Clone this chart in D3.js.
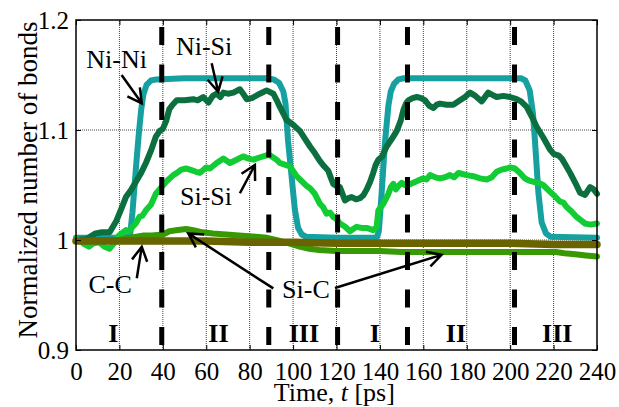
<html>
<head>
<meta charset="utf-8">
<script src="https://d3js.org/d3.v7.min.js"></script>
<style>
body { margin: 0; background: #fff; }
svg text { font-family: "Liberation Serif", "Times New Roman", serif; fill: #000; }
</style>
</head>
<body>
<script>
// bond counts normalized by their initial value, time in ps
var niNi = [[0,1.002],[10,1.002],[20,1.002],[24,1.003],[25,1.006],[26,1.025],[27,1.050],[28,1.075],[29,1.098],[30,1.118],[31,1.132],[32.5,1.141],[34.5,1.145],[37,1.146],[50,1.147],[70,1.147],[88,1.147],[91,1.146],[93.5,1.143],[95.5,1.135],[96.5,1.124],[97.7,1.090],[99.3,1.058],[100.8,1.028],[102.3,1.011],[104,1.005],[106,1.003],[120,1.002],[138.5,1.002],[139.5,1.008],[140.8,1.043],[142.3,1.088],[143.9,1.122],[145,1.135],[146.5,1.142],[148.5,1.146],[151,1.147],[180,1.147],[205,1.147],[207,1.145],[209,1.136],[210.5,1.115],[211.5,1.088],[213,1.043],[214.5,1.016],[216.5,1.006],[218.5,1.003],[240,1.002]];

var niSi = [[0,1.000],[5,1.001],[9,1.006],[12,1.007],[15.5,1.007],[18.5,1.017],[21,1.029],[23,1.039],[25.5,1.046],[27.6,1.053],[30,1.061],[32.2,1.070],[34.5,1.081],[36.8,1.094],[38.5,1.099],[40,1.101],[41.5,1.108],[43,1.119],[44.5,1.123],[46.4,1.127],[50,1.127],[54,1.128],[56,1.127],[58.6,1.130],[61,1.125],[63,1.131],[64.8,1.133],[66.5,1.130],[67.9,1.134],[70,1.133],[72.5,1.134],[75.5,1.137],[77,1.133],[78.6,1.128],[81,1.129],[84.7,1.133],[87.8,1.136],[90.9,1.133],[92.5,1.127],[93.9,1.121],[95.5,1.115],[97,1.109],[98.6,1.107],[100.5,1.104],[103.2,1.099],[105.5,1.092],[107.8,1.085],[110,1.079],[112.3,1.072],[114.3,1.067],[116.2,1.063],[117.5,1.056],[118.5,1.051],[120,1.049],[121.6,1.048],[123.9,1.036],[125.5,1.038],[127,1.039],[129,1.037],[130.8,1.038],[132.5,1.041],[133.9,1.046],[135.5,1.053],[136.9,1.061],[138,1.068],[139.3,1.073],[141,1.076],[143.1,1.085],[145.5,1.092],[147.7,1.099],[149.5,1.108],[150.8,1.118],[152,1.124],[153.1,1.127],[155,1.129],[157,1.130],[159,1.129],[160.8,1.127],[162.7,1.122],[164.7,1.120],[166.2,1.123],[167.7,1.124],[170.7,1.123],[173.8,1.123],[176.9,1.127],[179.2,1.130],[181.5,1.134],[184,1.131],[186.9,1.126],[189.9,1.134],[191.8,1.132],[193.8,1.130],[196.9,1.131],[199.9,1.130],[203,1.128],[205,1.126],[207.6,1.121],[210,1.112],[212.2,1.103],[215.3,1.093],[218.4,1.082],[220.2,1.078],[222.2,1.077],[223.8,1.074],[225.6,1.068],[227.6,1.061],[230,1.052],[232.2,1.043],[234.5,1.041],[236.8,1.048],[238.5,1.046],[240,1.042]];

var siSi = [[0,1.001],[2,0.999],[4,0.996],[6,0.994],[8,0.997],[10.7,0.998],[13,0.994],[15.4,0.992],[17.5,0.997],[19.2,1.003],[21,1.006],[23,1.009],[24.5,1.008],[26.1,1.012],[27.5,1.015],[29.2,1.021],[30.5,1.022],[32.2,1.027],[34.5,1.032],[36.8,1.042],[38.5,1.046],[41.5,1.053],[44.8,1.059],[46.5,1.061],[48.5,1.064],[50.7,1.065],[52.5,1.064],[55.3,1.062],[57.1,1.061],[59.9,1.066],[61.7,1.065],[64.8,1.070],[67.9,1.074],[70.9,1.070],[74,1.073],[77,1.076],[79.5,1.074],[81.7,1.073],[84.5,1.075],[87.8,1.077],[89.3,1.077],[92.4,1.073],[93.9,1.070],[95.5,1.069],[98.6,1.067],[101.6,1.058],[103.2,1.055],[106.3,1.049],[107.8,1.047],[110,1.042],[112.3,1.033],[113.8,1.030],[115.4,1.024],[117,1.025],[118.5,1.021],[120,1.019],[121.6,1.015],[124,1.012],[126.2,1.008],[127.7,1.010],[129.3,1.012],[131.5,1.011],[133.9,1.011],[136.9,1.009],[138.5,1.012],[139.3,1.027],[141.6,1.033],[143.9,1.042],[145,1.048],[146.2,1.051],[147.3,1.046],[148.5,1.049],[150,1.052],[151.5,1.050],[153,1.050],[155.4,1.052],[157.5,1.054],[160,1.056],[161.5,1.055],[163.1,1.059],[165.5,1.057],[167.7,1.056],[170,1.057],[172.3,1.059],[174.2,1.057],[176.2,1.061],[178,1.060],[180,1.059],[183,1.058],[186.1,1.056],[189.2,1.055],[191.5,1.057],[193.8,1.062],[196,1.064],[198.4,1.065],[200,1.066],[202.2,1.065],[204.5,1.061],[206.8,1.056],[208.7,1.054],[210.6,1.053],[213,1.052],[215.2,1.050],[218.3,1.044],[220.5,1.040],[222.9,1.035],[224.5,1.034],[226,1.030],[228.3,1.026],[230.6,1.021],[232.5,1.018],[234.5,1.015],[237,1.014],[240,1.015]];

var siC = [[0,0.999],[10,0.999],[20,1.000],[25,1.002],[30.7,1.004],[35,1.004],[40,1.005],[43,1.008],[47,1.009],[50.7,1.010],[54,1.009],[58.3,1.007],[63,1.006],[69.1,1.005],[75,1.004],[82.9,1.003],[88,1.002],[92.1,1.000],[96,0.998],[99.8,0.996],[103,0.994],[107.5,0.992],[112,0.991],[119.8,0.990],[130,0.990],[140,0.990],[150,0.989],[160,0.989],[180,0.989],[200,0.989],[215,0.989],[221,0.989],[225,0.988],[230,0.987],[235,0.986],[240,0.985]];

var cC = [[0,0.999],[20,0.999],[40,0.999],[60,0.999],[80,0.998],[100,0.998],[120,0.997],[140,0.997],[160,0.997],[180,0.997],[200,0.997],[220,0.996],[240,0.996]];

var xTicks = [0,20,40,60,80,100,120,140,160,180,200,220,240];
var yTicks = [0.9,1.0,1.1,1.2];
var yTickLabels = ["0.9","1","1.1","1.2"];

// phase boundaries (dashed) and phase names
var phaseBounds = [39.5,88.8,120.5,152.7,202];
var phaseNames = ["I","II","III","I","II","III"];
var phaseNameT = [17.2,65.6,105,137.7,175,221.7];

// labels with arrows: text anchor, arrow tails and tips in data units
var labelNames = ["Ni-Ni","Ni-Si","Si-Si","C-C","Si-C"];
var labelPos = [[18.7,1.1564],[59,1.168],[59.9,1.0318],[15.7,0.9515],[105.9,0.9473]];
var arrowLinks = [
  [[21.0,1.150],[30.3,1.1243]],
  [[62.5,1.1606],[65.5,1.1348]],
  [[75.5,1.0425],[82.4,1.0682]],
  [[28.0,0.9652],[30.3,0.9939]],
  [[90.9,0.956],[51.7,1.006]],
  [[119.3,0.9564],[168.4,0.9865]]
];

var width = 619, height = 407;
var x = d3.scaleLinear().domain([0,240]).range([76,597]);
var y = d3.scaleLinear().domain([0.9,1.2]).range([350,20]);

var svg = d3.select("body").append("svg")
  .attr("width", width).attr("height", height);

svg.append("rect").attr("width", width).attr("height", height).attr("fill", "#fff");

// dotted grid
var grid = svg.append("g");
grid.selectAll("line.vg").data(xTicks.slice(1,-1)).enter().append("line")
  .attr("x1", d => x(d)).attr("x2", d => x(d))
  .attr("y1", y(0.9)).attr("y2", y(1.2))
  .attr("stroke", "#444").attr("stroke-width", 1).attr("stroke-dasharray", "1,1");
grid.selectAll("line.hg").data(yTicks.slice(1,-1)).enter().append("line")
  .attr("x1", x(0)).attr("x2", x(240))
  .attr("y1", d => y(d)).attr("y2", d => y(d))
  .attr("stroke", "#444").attr("stroke-width", 1).attr("stroke-dasharray", "1,1");

// series, drawn bottom to top
var line = d3.line().x(d => x(d[0])).y(d => y(d[1]));
var series = [
  {data: niNi, color: "#16a0a0", w: 6},
  {data: niSi, color: "#0b6f3f", w: 6},
  {data: siSi, color: "#12cc33", w: 6},
  {data: siC,  color: "#379a05", w: 6},
  {data: cC,   color: "#696400", w: 7.5}
];
svg.append("g").selectAll("path").data(series).enter().append("path")
  .attr("d", d => line(d.data))
  .attr("fill", "none")
  .attr("stroke", d => d.color)
  .attr("stroke-width", d => d.w)
  .attr("stroke-linejoin", "round")
  .attr("stroke-linecap", "round");

// phase boundaries
svg.append("g").selectAll("line").data(phaseBounds).enter().append("line")
  .attr("x1", d => x(d)).attr("x2", d => x(d))
  .attr("y1", y(1.2)).attr("y2", y(0.9))
  .attr("stroke", "#000").attr("stroke-width", 5)
  .attr("stroke-dasharray", "18,19.5").attr("stroke-dashoffset", 30.5);

// axes box and ticks
svg.append("rect")
  .attr("x", x(0)).attr("y", y(1.2))
  .attr("width", x(240) - x(0)).attr("height", y(0.9) - y(1.2))
  .attr("fill", "none").attr("stroke", "#000").attr("stroke-width", 1.5);

svg.append("g").attr("transform", "translate(0," + y(0.9) + ")")
  .call(d3.axisBottom(x).tickValues(xTicks).tickSize(-5).tickSizeOuter(0).tickPadding(12));
svg.append("g").attr("transform", "translate(0," + y(1.2) + ")")
  .call(d3.axisTop(x).tickValues(xTicks).tickSize(-5).tickSizeOuter(0).tickFormat(""));
svg.append("g").attr("transform", "translate(" + x(0) + ",0)")
  .call(d3.axisLeft(y).tickValues(yTicks).tickSize(-5).tickSizeOuter(0).tickPadding(7)
    .tickFormat((d, i) => yTickLabels[i]));
svg.append("g").attr("transform", "translate(" + x(240) + ",0)")
  .call(d3.axisRight(y).tickValues(yTicks).tickSize(-5).tickSizeOuter(0).tickFormat(""));

svg.selectAll(".domain").remove();
svg.selectAll(".tick line").attr("stroke", "#000").attr("stroke-width", 1);
svg.selectAll(".tick text").attr("font-size", 25).attr("fill", "#000");

// phase names
svg.append("g").selectAll("text").data(phaseNames).enter().append("text")
  .attr("x", (d, i) => x(phaseNameT[i]))
  .attr("y", y(0.9073))
  .attr("text-anchor", "middle")
  .attr("font-size", 26).attr("font-weight", "bold")
  .text(d => d);

// labels and arrows
svg.append("g").selectAll("text").data(labelNames).enter().append("text")
  .attr("x", (d, i) => x(labelPos[i][0]))
  .attr("y", (d, i) => y(labelPos[i][1]))
  .attr("text-anchor", "middle")
  .attr("font-size", 26)
  .text(d => d);

function arrowPath(link) {
  var x0 = x(link[0][0]), y0 = y(link[0][1]);
  var x1 = x(link[1][0]), y1 = y(link[1][1]);
  var a = Math.atan2(y1 - y0, x1 - x0);
  var len = 16, spread = 0.5;
  var p1 = [x1 - len * Math.cos(a - spread), y1 - len * Math.sin(a - spread)];
  var p2 = [x1 - len * Math.cos(a + spread), y1 - len * Math.sin(a + spread)];
  return "M" + x0 + "," + y0 + "L" + x1 + "," + y1 +
    "M" + p1[0] + "," + p1[1] + "L" + x1 + "," + y1 + "L" + p2[0] + "," + p2[1];
}
svg.append("g").selectAll("path").data(arrowLinks).enter().append("path")
  .attr("d", arrowPath)
  .attr("fill", "none").attr("stroke", "#000").attr("stroke-width", 2.5);

// axis titles
svg.append("text")
  .attr("transform", "translate(37,180) rotate(-90)")
  .attr("text-anchor", "middle").attr("font-size", 27)
  .text("Normalized number of bonds");

var xt = svg.append("text")
  .attr("x", x(119)).attr("y", 401)
  .attr("text-anchor", "middle").attr("font-size", 26);
xt.append("tspan").text("Time, ");
xt.append("tspan").attr("font-style", "italic").text("t");
xt.append("tspan").text(" [ps]");
</script>
</body>
</html>
